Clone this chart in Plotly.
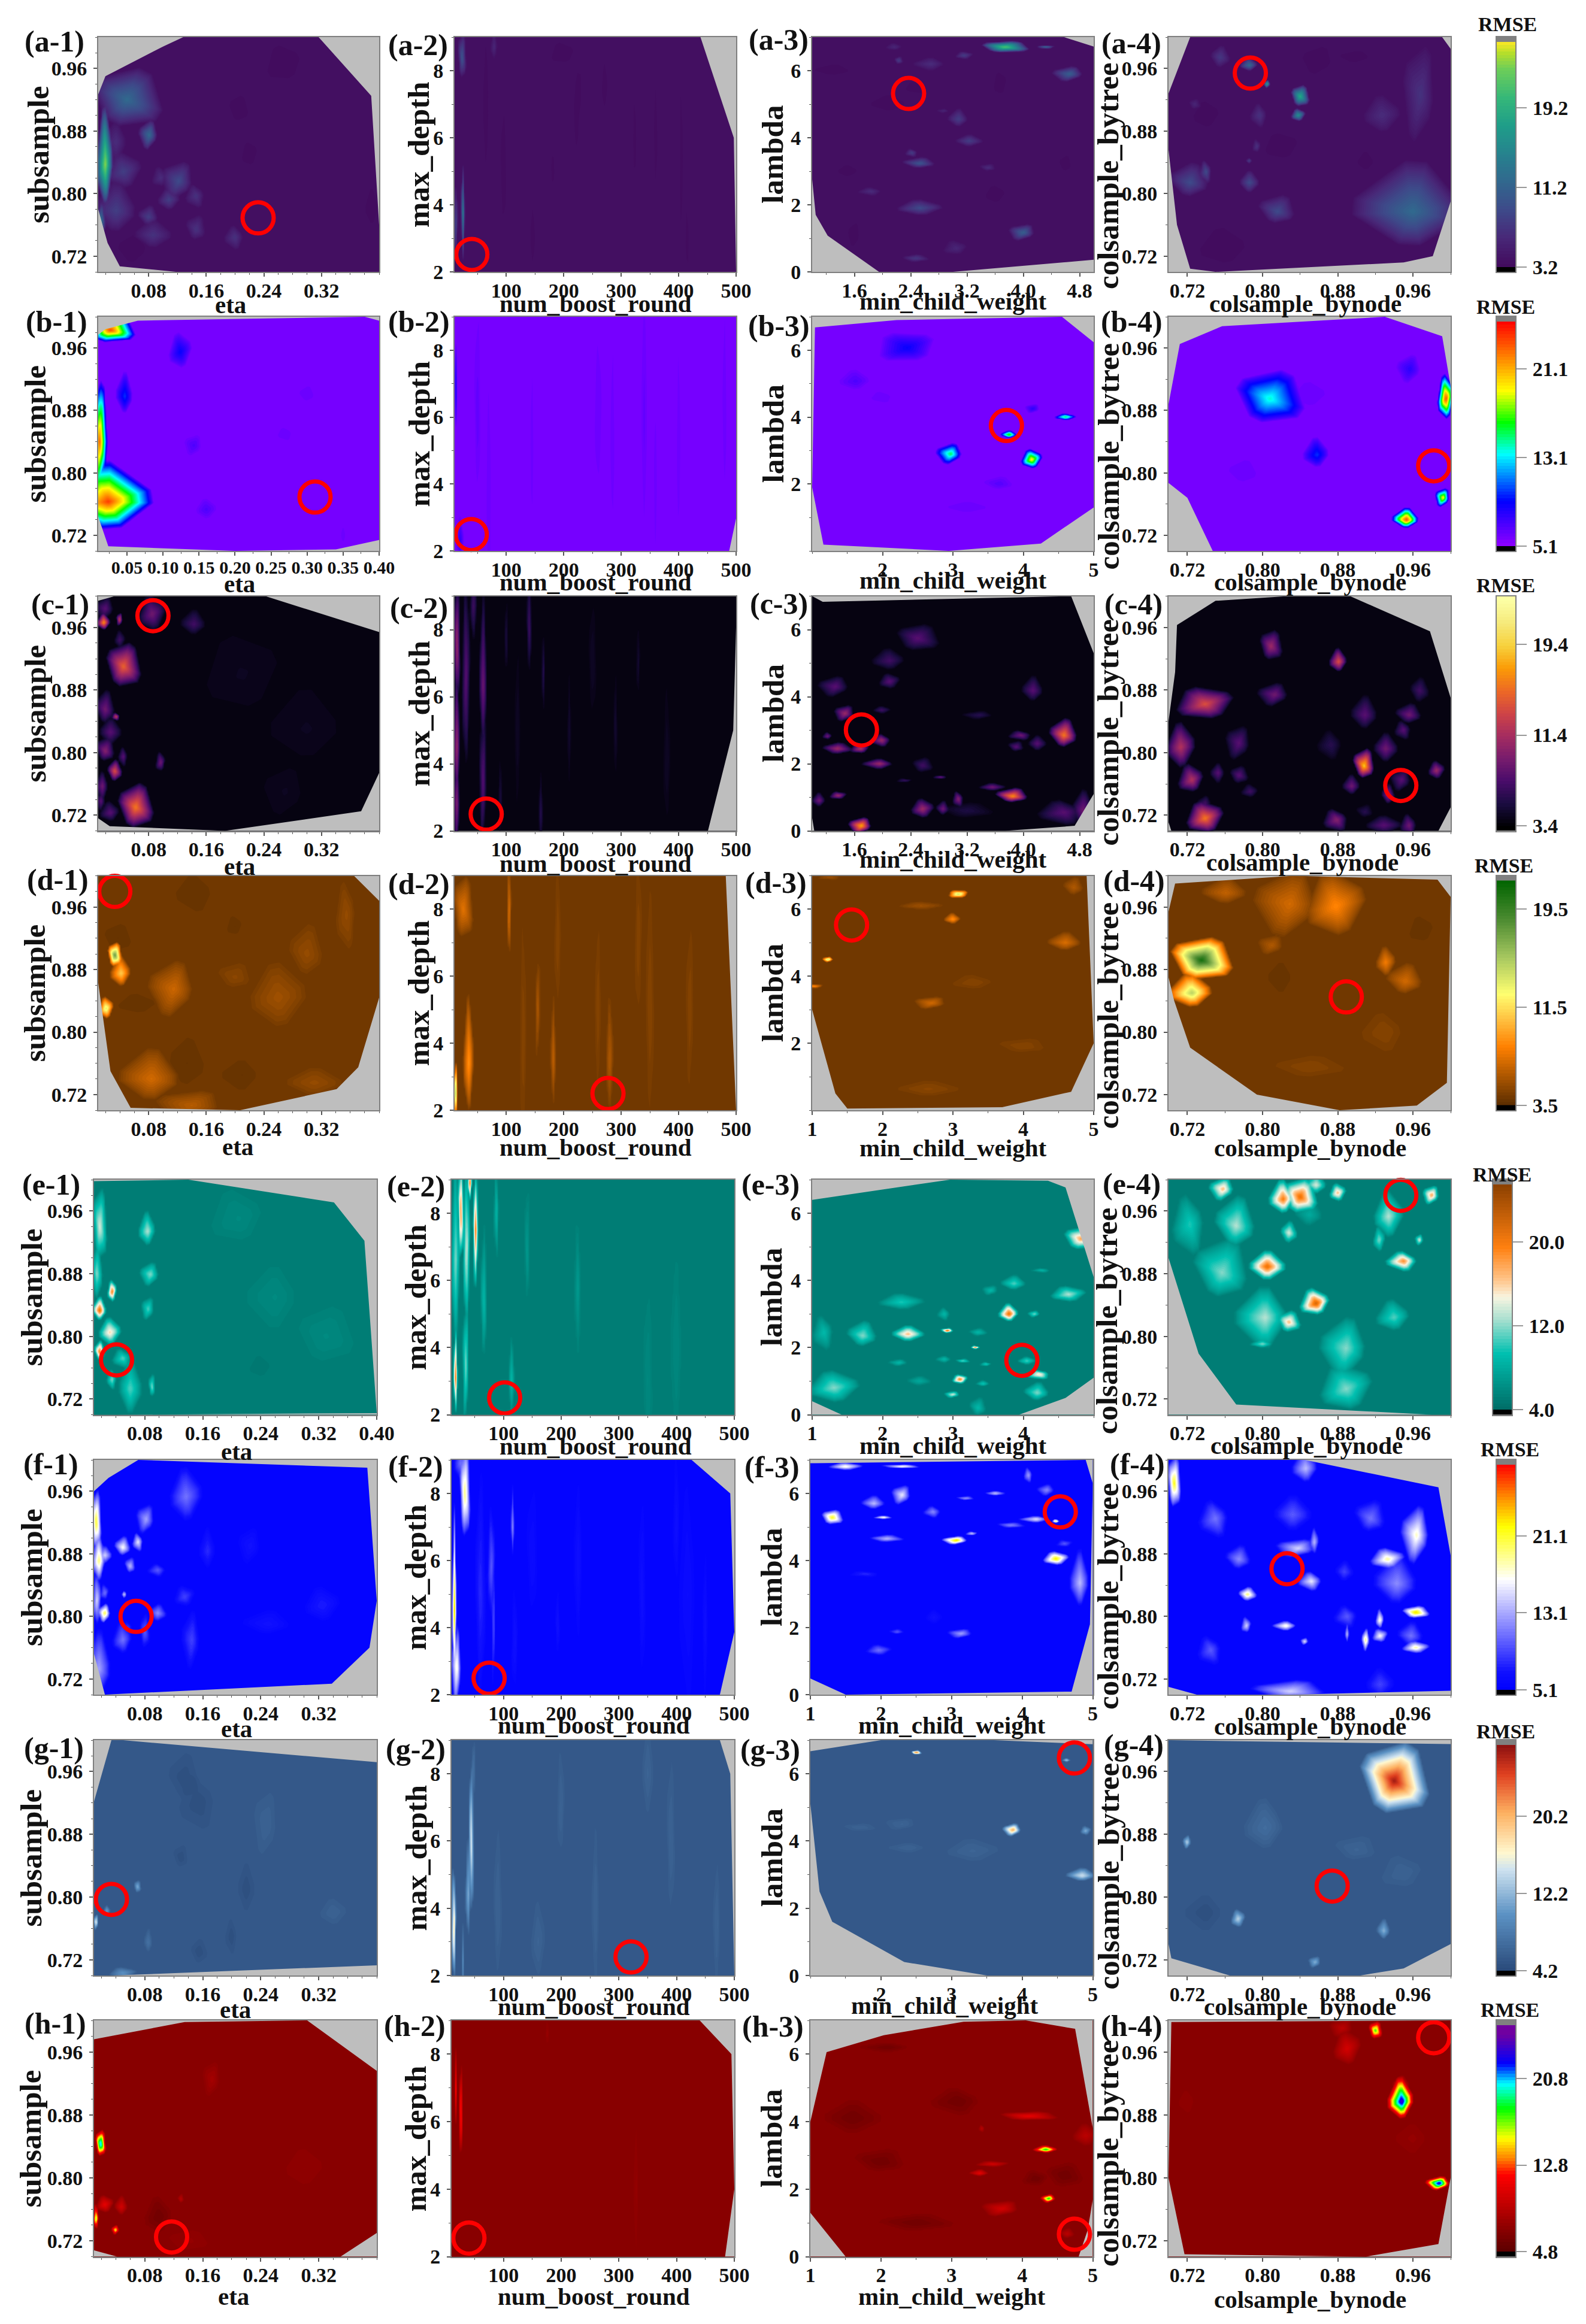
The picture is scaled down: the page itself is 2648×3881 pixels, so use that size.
import numpy as np
import plotly.graph_objects as go

W, H = 2648, 3881
FONT = "Liberation Serif"

ROWS = ["a", "b", "c", "d", "e", "f", "g", "h"]
X_TITLES = ["eta", "num_boost_round", "min_child_weight", "colsample_bynode"]
Y_TITLES = ["subsample", "max_depth", "lambda", "colsample_bytree"]

# colour-bar ranges and ticks per row (RMSE)
RMSE_MIN = [3.2, 5.1, 3.4, 3.5, 4.0, 5.1, 4.2, 4.8]
RMSE_MID = [11.2, 13.1, 11.4, 11.5, 12.0, 13.1, 12.2, 12.8]
RMSE_HIGH = [19.2, 21.1, 19.4, 19.5, 20.0, 21.1, 20.2, 20.8]
RMSE_MAX = [25.8, 25.4, 23.2, 21.8, 25.5, 28.5, 27.6, 25.7]
RMSE_BASE = [3.7, 5.7, 3.8, 4.2, 5.2, 5.5, 5.4, 6.6]

A_COLORS = [(0, "#420a5c"), (.13, "#482878"), (.25, "#3e4989"), (.38, "#31688e"), (.5, "#26828e"), (.63, "#1f9e89"), (.75, "#35b779"), (.88, "#6ece58"), (.95, "#b5de2b"), (1, "#fde725")]
B_COLORS = [(0, "#9000ff"), (.2, "#0000ff"), (.41, "#00ffff"), (.55, "#00ff00"), (.69, "#ffff00"), (1, "#ff0000")]
C_COLORS = [(0, "#000004"), (.1, "#1b0c41"), (.2, "#4a0c6b"), (.3, "#781c6d"), (.4, "#a52c60"), (.5, "#cf4446"), (.6, "#ed6925"), (.7, "#fb9b06"), (.8, "#f7d13d"), (.9, "#f6e97a"), (1, "#fcffa4")]
D_COLORS = [(0, "#5a2d00"), (.26, "#ff8000"), (.38, "#ffc040"), (.495, "#ffff70"), (.655, "#a8c860"), (.83, "#4a8a30"), (1, "#006400")]
E_COLORS = [(0, "#006c66"), (.25, "#00c0b0"), (.4, "#a8e0d0"), (.5, "#f8f4e0"), (.57, "#ffc890"), (.72, "#ff8010"), (1, "#8b4000")]
F_COLORS = [(0, "#0000ff"), (.08, "#1010ff"), (.3, "#9090ff"), (.49, "#ffffff"), (.725, "#ffff00"), (.85, "#ff9000"), (1, "#ff0000")]
G_COLORS = [(0, "#2a4a7a"), (.25, "#5c92c4"), (.45, "#cfe3f0"), (.52, "#fff8d0"), (.7, "#fdb060"), (.87, "#e04020"), (1, "#8b1010")]
H_COLORS = [(0, "#5a0000"), (.1, "#8b0000"), (.34, "#ff0000"), (.41, "#ff8000"), (.5, "#ffff00"), (.63, "#00ff00"), (.74, "#00ffff"), (.83, "#0000ff"), (.96, "#7000a0"), (1, "#7000a0")]
OVER_COLORS = ["#808080", "#808080", "#fcffa4", "#808080", "#808080", "#808080", "#808080", "#808080"]

# optimal point marked by the red circle in each panel
BEST_X = [[.232, 40, 2.37, .787], [.311, 39, 3.76, .982], [.086, 65, 1.7, .947], [.033, 277, 1.56, .889],
          [.041, 102, 3.98, .947], [.068, 75, 4.54, .826], [.034, 321, 4.74, .874], [.117, 40, 4.74, .982]]
BEST_Y = [[.769, 2.52, 5.32, .954], [.769, 2.49, 3.75, .809], [.975, 2.5, 3.01, .758], [.98, 2.5, 5.53, .845],
          [.77, 2.5, 1.62, .98], [.80, 2.49, 5.45, .861], [.797, 2.55, 6.47, .814], [.725, 2.55, .665, .978]]

ETA_TICKS = [.08, .16, .24, .32]
ETA_TICKS_B = [.05, .10, .15, .20, .25, .30, .35, .40]
ETA_TICKS_E = [.08, .16, .24, .32, .40]
ROUND_TICKS = [100, 200, 300, 400, 500]
DEPTH_TICKS = [2, 4, 6, 8]
MCW_TICKS_FINE = [1.6, 2.4, 3.2, 4.0, 4.8]
MCW_TICKS_15 = [1, 2, 3, 4, 5]
MCW_TICKS_25 = [2, 3, 4, 5]
MCW_TICKS_14 = [1, 2, 3, 4]
LAMBDA_TICKS = [0, 2, 4, 6]
LAMBDA_TICKS_26 = [2, 4, 6]
FRAC_TICKS = [.72, .80, .88, .96]

X_RANGES = [[.01, .40], [10, 500], [1, 5], [.70, 1.0]]
Y_RANGES = [[.70, 1.0], [2, 9], [0, 7], [.70, 1.0]]

# Hull of sampled region (x, y) and local features (x, y, rmse, half-width x, half-width y[, tilt])
A1_HULL = [(.01, .78), (.01, .927), (.02, .95), (.10, .988), (.128, 1), (.316, 1), (.389, .925), (.40, .76), (.40, .70), (.118, .70), (.04, .707), (.023, .737)]
A1_SPOTS = [(.05, .92, 12, .04, .033), (.02, .837, 24, .01, .06), (.081, .875, 12, .012, .015), (.045, .828, 8, .02, .02), (.035, .778, 8, .025, .03), (.122, .816, 9, .02, .02), (.108, .792, 8, .012, .012), (.08, .77, 8, .012, .012), (.146, .797, 7, .012, .012), (.086, .747, 7, .02, .015), (.146, .754, 7, .012, .015), (.20, .744, 7, .012, .012), (.014, .765, 13, .005, .02), (.097, .82, 6.5, .01, .012), (.035, .866, 6.5, .015, .02), (.205, .908, 3.3, .015, .02), (.27, .965, 3.3, .03, .03, 30), (.06, .73, 3.3, .025, .02), (.22, .85, 3.3, .012, .018), (.39, .78, 3.3, .01, .03)]
A2_HULL = [(10, 2), (10, 9), (438, 9), (496, 6), (500, 2)]
A2_SPOTS = [(23, 8.4, 10, 6, .6), (79, 8.7, 6, 5, .4), (25, 3.75, 14, 3, 1.2), (12, 3.4, 9, 3, 1), (200, 8.5, 3.3, 25, .4, 30), (227, 7.3, 3.3, 5, .8), (271, 7.5, 3.3, 5, .8), (181, 5, 3.3, 3, .7), (415, 3, 3.3, 3, 1), (146, 3, 3.3, 4, 1), (222, 6.5, 3.3, 5, 1.3), (324, 6, 3.3, 3, 1.5), (360, 6, 3.3, 3, 1.8), (405, 5, 3.3, 3, 2.8), (65, 7, 3.3, 6, 2), (95, 5, 3.3, 5, 2)]
A3_HULL = [(1.04, 7), (4.58, 7), (5, 6.72), (5, .36), (3, 0), (1.95, 0), (1.22, 1.08), (1.05, 1.7), (1, 2.76), (1, 7)]
A3_SPOTS = [(3.74, 6.7, 22, .28, .15), (4.33, 6.7, 15, .15, .03), (4.66, 5.9, 11, .2, .18), (3.16, 6.45, 8, .1, .1), (3.08, 4.55, 8, .12, .25), (4, 1.17, 11, .17, .2), (2.53, 1.9, 9, .25, .2), (2.53, 3.23, 10, .2, .15), (2.42, 3.55, 8, .08, .1), (3.23, 3.9, 8, .15, .15), (3.5, 3.1, 6.5, .1, .1), (1.84, 2.4, 6.5, .15, .1), (2.47, .4, 7.5, .15, .1), (3.05, .7, 6, .15, .2), (2.69, 6.2, 6.5, .2, .15), (2.23, 6.3, 8, .05, .1), (2.17, 6.7, 6, .1, .1), (2.87, 4.8, 6, .08, .05), (3.67, 5.6, 3.3, .1, .4), (2.1, 5.0, 3.3, .3, .3), (1.6, 1.1, 3.3, .1, .4), (3.6, 2.3, 3.3, .15, .3), (1.3, 6, 3.3, .3, .2), (2.5, 5.5, 3.3, .2, .2), (1.5, 3, 3.3, .15, .2), (4.6, 3.2, 3.3, .1, .3)]
A4_HULL = [(.723, 1), (.991, 1), (1, .985), (1, .79), (.981, .72), (.95, .712), (.75, .70), (.723, .704), (.709, .76), (.70, .856), (.70, .928)]
A4_SPOTS = [(.84, .924, 19, .008, .012), (.786, .964, 12, .008, .008), (.805, .94, 18, .003, .004), (.838, .90, 16, .006, .007), (.96, .777, 12, .05, .05), (.968, .926, 7, .015, .05), (.927, .90, 6.5, .015, .02), (.723, .814, 9, .018, .02), (.74, .828, 9, .006, .012), (.786, .814, 9, .008, .012), (.816, .777, 9, .017, .017), (.797, .90, 7, .008, .012), (.755, .974, 7.5, .008, .012), (.794, .86, 7, .004, .008), (.786, .842, 8, .003, .003), (.728, .914, 6, .005, .006), (.76, .73, 3.3, .03, .03), (.90, .975, 3.3, .02, .008), (.82, .86, 3.3, .02, .02), (.91, .84, 3.3, .01, .015), (.86, .97, 3.3, .02, .02), (.74, .90, 3.3, .015, .02)]

B1_HULL = [(.01, .744), (.01, .977), (.02, .984), (.065, .995), (.38, 1), (.40, .995), (.40, .714), (.34, .702), (.20, .70), (.024, .706)]
B1_SPOTS = [(.027, .983, 24, .028, .015), (.024, .763, 24, .06, .04), (.012, .84, 23, .012, .06), (.124, .955, 9, .013, .02), (.047, .898, 10, .01, .025), (.143, .835, 7, .012, .012), (.16, .753, 7, .012, .012), (.30, .90, 6.1, .02, .02), (.27, .85, 6.1, .02, .015), (.35, .72, 6.1, .005, .02)]
B2_HULL = [(10, 2), (10, 9), (500, 9), (500, 2.97), (488, 2)]
B2_SPOTS = [(12, 6.8, 9, 2, 1.2), (20, 2.3, 8, 6, .6), (145, 5, 6.2, 4, 3), (260, 6, 6.2, 8, 3), (285, 5, 6.2, 5, 4), (360, 4, 6.2, 4, 3), (400, 5, 6.2, 4, 4), (480, 6, 6.2, 5, 4), (70, 4, 6.2, 6, 4), (340, 6, 6.4, 5, 4), (50, 6, 6.5, 6, 3)]
B3_HULL = [(1, 1.9), (1.04, 6.68), (2.2, 6.9), (4.55, 7), (5, 6.24), (5, 1.3), (4.25, .22), (2.94, 0), (1.16, .19)]
B3_SPOTS = [(2.35, 6.07, 9, .35, .4, 40), (1.62, 5.07, 7, .2, .3), (2.97, 2.9, 15.5, .17, .25), (4.12, 2.73, 20, .12, .25), (3.8, 3.47, 18, .1, .1), (4.14, 4.25, 8, .1, .12), (4.6, 4.0, 16, .12, .08), (3.66, 2, 6.8, .2, .2), (2.0, 4.6, 6.1, .3, .3), (3.2, 1.3, 6.1, .5, .3)]
B4_HULL = [(.70, .888), (.712, .965), (.757, .988), (.93, 1), (.991, .975), (1, .911), (1, .70), (.747, .70), (.72, .768), (.70, .787)]
B4_SPOTS = [(.8077, .895, 14, .03, .03), (.858, .823, 10, .012, .018), (.957, .933, 8, .012, .015), (.995, .895, 24, .007, .025), (.953, .74, 24, .012, .012), (.992, .768, 20, .007, .01), (.85, .90, 6.1, .03, .03), (.78, .80, 6.1, .03, .03)]

C1_HULL = [(.01, .716), (.01, .994), (.033, 1), (.242, 1), (.40, .954), (.40, .774), (.375, .725), (.186, .70), (.026, .706)]
C1_SPOTS = [(.045, .91, 15, .02, .025), (.018, .966, 17, .008, .01), (.02, .984, 8, .012, .012), (.085, .977, 9, .015, .02), (.143, .964, 7, .015, .015), (.04, .97, 13, .004, .007), (.04, .944, 7, .006, .01), (.02, .855, 9, .012, .02), (.035, .846, 13, .005, .004), (.027, .826, 8, .012, .015), (.02, .802, 10, .012, .015), (.045, .795, 8, .006, .01), (.033, .776, 14, .008, .012), (.097, .787, 9, .006, .012), (.016, .757, 9, .008, .015), (.062, .73, 16, .02, .025), (.027, .723, 8, .012, .012), (.014, .738, 8, .006, .01), (.21, .90, 4.3, .05, .05), (.30, .83, 4.3, .05, .05), (.27, .75, 4.3, .03, .03)]
C2_HULL = [(10, 2), (10, 9), (500, 9), (500, 8.07), (495, 5), (451, 2)]
C2_SPOTS = [(14, 7.5, 11, 5, 1.6), (14, 4.5, 11, 5, 2), (14, 2.8, 10, 5, 1.2), (30, 6.5, 8, 6, 2.5), (60, 6.3, 9, 6, 2.2), (60, 3.5, 8, 6, 1.7), (43, 8.7, 7, 5, 1), (140, 8, 7, 4, 1.5), (165, 6.8, 6, 3, 1), (160, 2.5, 6, 3, 1), (100, 7.6, 5.5, 3, 1), (210, 5, 5, 3, 1.4), (290, 5, 5, 3, 1.4), (330, 7, 5, 3, 1), (90, 3, 5.5, 3, 1), (250, 7, 4.6, 6, 1.5), (380, 4, 4.6, 6, 2), (120, 5, 4.6, 5, 2)]
C3_HULL = [(1, .38), (1, 7), (1.15, 6.83), (4.68, 7), (5, 5.3), (5, 1.1), (4.73, .15), (3.74, 0), (1.03, 0)]
C3_SPOTS = [(2.5, 5.74, 8, .25, .35), (2.1, 5.07, 7, .2, .3), (1.33, 4.3, 8, .2, .25), (2.1, 4.45, 8, .12, .2), (4.14, 4.18, 8, .13, .35), (1.47, 3.5, 11, .13, .2), (1.99, 3.6, 7, .1, .1), (4.58, 2.85, 16, .17, .4), (3.97, 2.85, 9, .15, .12), (4.2, 2.6, 8, .1, .2), (3.9, 2.5, 8, .1, .15), (1.99, 2.7, 11, .13, .15), (1.36, 2.45, 11, .17, .15), (1.69, 2.45, 12, .12, .15), (1.96, 2, 11, .2, .12), (2.57, 1.95, 7, .12, .2), (1.22, 2.82, 9, .06, .1), (3.38, 3.45, 6, .2, .1), (1.37, 1.05, 11, .1, .1), (1.1, .9, 9, .08, .2), (1.7, .15, 18, .15, .2), (2.57, .65, 11, .13, .25), (2.86, .65, 9, .08, .2), (3.08, .95, 10, .07, .2), (3.56, 1.3, 9, .15, .1), (3.85, 1.03, 17, .2, .2), (4.58, .55, 8, .3, .3), (4.85, .6, 9, .12, .5), (2.32, 1.5, 7, .1, .05), (2.83, 1.6, 9, .1, .04), (3.2, .6, 5.5, .3, .2)]
C4_HULL = [(.70, .711), (.703, .70), (.987, .70), (1, .73), (1, .87), (.978, .955), (.893, 1), (.827, 1), (.75, .994), (.709, .963), (.707, .903), (.70, .84)]
C4_SPOTS = [(.809, .936, 11, .01, .017), (.881, .916, 14, .008, .014), (.813, .874, 9, .015, .012), (.739, .862, 14, .025, .018, 30), (.909, .848, 8, .012, .02), (.775, .812, 8, .012, .018), (.713, .807, 12, .012, .025), (.956, .848, 9, .012, .012), (.95, .829, 8, .008, .01), (.931, .805, 9, .01, .016), (.908, .783, 19, .01, .018), (.873, .81, 6, .012, .015), (.967, .879, 7, .008, .014), (.725, .765, 12, .012, .017), (.753, .774, 8, .007, .01), (.775, .771, 8, .008, .01), (.787, .75, 7, .008, .008), (.739, .735, 7, .007, .008), (.739, .716, 16, .016, .018), (.895, .757, 9, .008, .012), (.948, .765, 8, .01, .012), (.985, .777, 11, .007, .01), (.934, .745, 10, .006, .012), (.879, .714, 10, .012, .012), (.929, .707, 8, .015, .01), (.909, .724, 6, .008, .008), (.956, .707, 9, .008, .012)]

D1_HULL = [(.01, .863), (.01, 1), (.365, 1), (.40, .968), (.40, .844), (.371, .755), (.341, .727), (.207, .70), (.055, .703), (.027, .75)]
D1_SPOTS = [(.033, .898, 18, .008, .014), (.042, .875, 11, .012, .018), (.115, .855, 6.8, .028, .028), (.021, .83, 14, .008, .012), (.084, .74, 7, .035, .03), (.14, .706, 6.2, .04, .015), (.26, .844, 5.5, .03, .035), (.30, .90, 5.2, .02, .03), (.355, .95, 5.2, .012, .035), (.31, .735, 5.2, .03, .015), (.20, .87, 4.9, .02, .015), (.146, .978, 3.75, .03, .025), (.133, .76, 3.75, .025, .035), (.20, .935, 3.75, .012, .015), (.21, .745, 3.75, .03, .02), (.037, .92, 3.75, .02, .02), (.066, .835, 3.75, .03, .015)]
D2_HULL = [(10, 2), (10, 9), (482, 9), (500, 2)]
D2_SPOTS = [(25, 8, 7.5, 14, .8), (35, 3.4, 9, 8, 1.6), (12, 2.5, 17, 3, .7), (105, 7.9, 7.5, 3, 1.2), (182, 3.5, 6.5, 4, 1.5), (155, 5, 6, 4, 1.2), (280, 3.5, 6, 5, 1.5), (75, 7.3, 3.75, 8, 1.8), (150, 6, 3.75, 4, 1), (310, 7, 3.75, 6, 2), (405, 8.5, 3.75, 15, .6), (217, 5.7, 3.75, 5, 2), (350, 5, 4.8, 6, 3), (130, 4, 4.8, 5, 3), (450, 6, 3.75, 5, 2), (240, 3, 3.75, 5, 1.5), (190, 7, 4.8, 5, 2), (260, 5, 4.8, 5, 2), (330, 7, 4.8, 5, 2), (370, 4, 3.75, 6, 1.5), (420, 5, 4.8, 6, 2)]
D3_HULL = [(1, 3), (1, 7), (4.9, 7), (5, 2), (4.68, .55), (3.7, .09), (1.5, .05), (1.33, .5)]
D3_SPOTS = [(3.08, 6.45, 15, .12, .1, 40), (3, 5.7, 9, .1, .15), (1.23, 4.5, 15, .07, .06), (1.03, 3.7, 9, .1, .05), (4.6, 5, 7.2, .2, .25), (2.7, 3.2, 7, .2, .15), (2.55, 6.1, 5.5, .25, .1), (4.72, 6.65, 6, .12, .25), (1.26, 6.95, 5.5, .15, .05), (2.65, .63, 4.9, .35, .2), (4, 1.9, 4.8, .3, .2), (2.3, 1.3, 3.75, .35, .15), (3.67, .45, 3.75, .1, .25), (2.94, 5.2, 3.75, .15, .3), (3.67, 5.5, 3.75, .2, .2), (1.47, 2.5, 3.75, .3, .4), (3.3, 3.8, 4.8, .25, .2)]
D4_HULL = [(.70, .87), (.70, .954), (.707, .99), (.833, 1), (.986, .995), (1, .973), (.996, .735), (.964, .706), (.882, .70), (.794, .72), (.723, .78), (.706, .84)]
D4_SPOTS = [(.735, .892, 21, .027, .024), (.725, .85, 15, .02, .02), (.829, .964, 7, .03, .033), (.878, .961, 8.5, .025, .035), (.761, .978, 6.5, .02, .015), (.81, .911, 6, .012, .01), (.931, .889, 8, .008, .016), (.952, .865, 7, .016, .018), (.75, .925, 3.75, .012, .02), (.89, .83, 3.75, .03, .03), (.86, .80, 3.75, .02, .02), (.93, .80, 4.8, .02, .02), (.85, .755, 4.8, .03, .012), (.97, .93, 3.75, .015, .02), (.82, .87, 3.75, .015, .02)]

E1_HULL = [(.01, .70), (.01, .998), (.14, 1), (.341, .971), (.383, .922), (.40, .702), (.04, .70)]
E1_SPOTS = [(.018, .94, 14, .008, .04), (.084, .934, 13, .01, .02), (.088, .879, 12, .012, .012), (.035, .857, 20, .005, .012), (.018, .833, 21, .008, .014), (.085, .835, 11, .008, .012), (.032, .805, 16, .012, .015), (.018, .78, 20, .006, .012), (.05, .772, 11, .012, .01), (.06, .733, 11, .012, .03), (.09, .735, 12, .004, .014), (.035, .745, 12, .006, .01), (.014, .88, 12, .006, .03), (.21, .95, 5.9, .03, .03), (.26, .85, 5.9, .03, .03), (.33, .80, 5.9, .03, .03), (.24, .76, 4.8, .03, .03)]
E2_HULL = [(10, 2), (10, 9), (500, 9), (500, 2)]
E2_SPOTS = [(26, 8, 20, 4, 1.3), (42, 8.9, 20, 3, .6), (52, 7.5, 20, 4, 1.5), (36, 6.9, 14, 5, 2.2), (17, 3.1, 21, 3, 1.2), (35, 3.5, 12, 5, 1.5), (17, 6.6, 12, 6, 2.5), (66, 5.3, 9, 5, 1.8), (88, 8.1, 9, 4, 1.1), (114, 3, 9, 4, 1), (141, 6.8, 7, 4, 1.5), (229, 5.8, 7, 5, 1.5), (200, 8, 4.8, 20, 1), (300, 7, 4.8, 25, 2), (400, 4, 5.9, 8, 2), (350, 3, 5.9, 6, 2)]
E3_HULL = [(1, 6.4), (2.96, 7), (4.35, 6.97), (4.6, 6.77), (5, 4.1), (5, 1.1), (4.6, .5), (3.94, 0), (1.42, 0), (1, .4)]
E3_SPOTS = [(4.82, 5.24, 18, .2, .3), (3.8, 3, 21, .12, .25), (4.16, 3, 12, .08, .08), (4.64, 3.58, 13, .2, .2), (3.87, 3.9, 11, .15, .2), (3.54, 3.7, 9, .1, .12), (2.27, 3.35, 10, .25, .2), (1.72, 2.35, 12, .18, .35), (1.17, 2.45, 9, .13, .4), (2.36, 2.4, 17, .18, .2), (2.92, 2.5, 22, .08, .06), (2.88, 3, 9, .08, .15), (3.36, 2.45, 9, .1, .1), (3.32, 2, 21, .06, .04), (2.88, 1.65, 9, .1, .08), (3.14, 1.6, 12, .08, .05), (3.47, 1.5, 11, .07, .05), (2.24, 1.55, 9, .12, .08), (3.1, 1.05, 20, .09, .12), (3.43, .92, 10, .08, .08), (3.0, .6, 14, .1, .08), (1.31, .8, 12, .28, .4), (4.2, .65, 12, .15, .25), (4.23, 1.2, 16, .15, .12), (4.05, 1.6, 11, .1, .1), (3.36, .2, 9, .1, .25), (4.27, 4.3, 9, .12, .05), (2.52, 1, 8, .13, .12)]
E4_HULL = [(.70, .90), (.70, 1), (1, 1), (1, .70), (.98, .70), (.772, .713), (.732, .778)]
E4_SPOTS = [(.84, .978, 21, .015, .02), (.822, .975, 20, .012, .02), (.758, .988, 17, .012, .012), (.88, .983, 17, .007, .01), (.857, .993, 14, .01, .012), (.98, .98, 18, .008, .01), (.934, .953, 13, .012, .025), (.772, .941, 13, .018, .03), (.723, .943, 10, .015, .03), (.805, .889, 21, .015, .016), (.757, .881, 12, .025, .035), (.95, .896, 19, .015, .01), (.828, .932, 14, .007, .012), (.857, .842, 22, .014, .016), (.803, .824, 13, .025, .03), (.828, .818, 17, .01, .012), (.94, .824, 11, .015, .018), (.889, .785, 12, .022, .03), (.889, .733, 12, .022, .025), (.80, .79, 12, .01, .005), (.967, .923, 14, .004, .006), (.924, .923, 12, .005, .014), (.85, .955, 8, .012, .015)]

F1_HULL = [(.01, .752), (.01, .96), (.03, .977), (.071, 1), (.387, .99), (.40, .82), (.39, .76), (.338, .714), (.025, .70)]
F1_SPOTS = [(.013, .92, 22, .006, .035), (.017, .871, 20, .008, .03), (.025, .804, 21, .008, .01), (.014, .82, 15, .005, .03), (.017, .733, 13, .015, .04), (.082, .924, 13, .012, .016), (.137, .953, 11, .018, .03), (.05, .888, 17, .01, .012), (.071, .895, 16, .007, .01), (.025, .878, 15, .008, .01), (.06, .864, 14, .007, .01), (.098, .859, 10, .012, .007), (.098, .804, 12, .01, .01), (.025, .83, 11, .006, .01), (.052, .828, 16, .003, .004), (.08, .78, 10, .006, .02), (.05, .77, 11, .012, .02), (.145, .77, 9, .012, .03), (.135, .825, 9, .012, .012), (.167, .883, 8, .01, .025), (.226, .89, 7, .015, .02), (.325, .814, 7.5, .02, .02), (.25, .79, 7, .03, .015), (.057, .785, 9, .006, .008)]
F2_HULL = [(10, 2), (10, 9), (426, 9), (493, 8), (500, 3.87), (475, 2)]
F2_SPOTS = [(33, 8, 20, 8, 1.3), (15, 4.5, 24, 3, 2.5), (19, 2.8, 18, 8, 1), (79, 5.8, 10, 6, 1.5), (116, 7, 12, 3, 1), (83, 4, 10, 3, 1.5), (26, 8.9, 11, 10, .5), (194, 4, 7, 4, 1), (292, 5.3, 2, 11, 3.5), (300, 2.8, 3.5, 5, 1.6), (150, 6, 6.5, 10, 2), (420, 5, 6.5, 15, 3), (60, 5, 8, 8, 3), (120, 3.5, 7, 6, 1.5), (230, 6, 6.8, 8, 2), (340, 5, 6.8, 6, 2.5), (400, 7, 6.8, 6, 2), (450, 4, 6.8, 5, 2)]
F3_HULL = [(1, .48), (1, 6.9), (1.06, 6.9), (4.9, 7), (5, 6.3), (4.96, 2.1), (4.7, .09), (1.5, 0)]
F3_SPOTS = [(1.31, 5.28, 22, .13, .2), (2.04, 5.28, 18, .12, .05), (3.07, 4.6, 24, .17, .1), (4.48, 4.05, 23, .15, .18), (1.9, 5.7, 14, .15, .2), (2.3, 5.95, 16, .13, .25), (1.5, 6.8, 18, .2, .1), (2.3, 6.8, 19, .25, .05), (4.09, 6.55, 13, .06, .2), (3.62, 6, 15, .12, .06), (3.2, 5.85, 13, .12, .06), (2.74, 5.45, 12, .12, .15), (2.08, 4.65, 14, .2, .1), (4.48, 5.17, 22, .05, .05), (4.2, 5.23, 16, .2, .08), (3.84, 5.05, 12, .17, .08), (3.29, 4.8, 16, .08, .05), (4.35, 6.1, 12, .12, .15), (4.6, 4.5, 10, .1, .1), (4.82, 3.33, 14, .12, .8), (3.14, 1.82, 13, .17, .12), (1.97, 1.32, 11, .15, .15), (2.23, 1.87, 10, .1, .08), (1.79, 3.6, 8, .2, .08), (2.75, 2.3, 7, .1, .2)]
F4_HULL = [(.70, .71), (.70, 1), (.845, 1), (.987, .965), (1, .878), (1, .705), (.833, .70), (.73, .70)]
F4_SPOTS = [(.706, .97, 22, .006, .03), (.846, .989, 14, .012, .02), (.964, .904, 18, .014, .03), (.933, .873, 19, .015, .012), (.943, .842, 12, .02, .03), (.838, .887, 15, .02, .01), (.855, .895, 14, .004, .015), (.775, .873, 12, .012, .015), (.75, .925, 11, .015, .02), (.832, .93, 10, .016, .02), (.915, .925, 11, .015, .02), (.852, .845, 16, .012, .01), (.784, .828, 20, .008, .008), (.783, .788, 15, .005, .01), (.825, .788, 18, .012, .005), (.963, .805, 24, .012, .007), (.925, .795, 18, .004, .012), (.91, .77, 20, .004, .012), (.925, .775, 17, .007, .008), (.89, .777, 14, .002, .012), (.845, .768, 16, .004, .004), (.963, .76, 19, .012, .007), (.958, .775, 11, .012, .015), (.745, .757, 10, .012, .016), (.925, .713, 9, .012, .017), (.83, .704, 15, .035, .012), (.89, .80, 10, .012, .012), (.887, .857, 9, .008, .012)]

G1_HULL = [(.01, .70), (.01, .922), (.034, 1), (.05, 1), (.40, .972), (.40, .713), (.036, .70)]
G1_SPOTS = [(.07, .813, 12, .004, .007), (.028, .782, 11, .004, .006), (.013, .768, 17, .003, .008), (.05, .703, 10, .015, .006), (.085, .742, 7.5, .005, .014), (.248, .893, 6.2, .015, .035), (.34, .78, 6.2, .015, .015), (.135, .95, 4.6, .02, .03), (.155, .92, 4.6, .025, .03), (.22, .81, 4.6, .01, .03), (.13, .85, 4.6, .01, .015), (.2, .75, 4.6, .008, .02), (.155, .73, 4.6, .01, .015)]
G2_HULL = [(10, 2), (10, 9), (475, 9), (493, 8), (500, 2)]
G2_SPOTS = [(44, 5.9, 16, 3.5, 2), (39, 4.4, 12, 4, 1.4), (30, 2.4, 10, 2, 1), (14, 3.4, 20, 3, 1.5), (172, 5.5, 2.5, 4, 2.1), (48, 8, 8, 3, .8), (160, 3, 6.3, 10, 1), (230, 7, 4.6, 8, 2), (300, 6, 4.6, 6, 3), (350, 8, 6.3, 8, 1.2), (420, 4, 4.6, 8, 2), (120, 6, 4.6, 8, 2), (90, 4, 6.3, 6, 2), (200, 7, 6.3, 6, 1.5), (260, 4, 6.3, 6, 2), (390, 6, 6.3, 6, 2), (450, 7, 4.6, 6, 1.5), (470, 3.5, 6.3, 6, 1.5)]
G3_HULL = [(1, 5.1), (1, 6.67), (2, 7), (3.6, 7), (5, 6.88), (5, 0), (3.5, 0), (2.33, .4), (1.31, 1.6), (1.13, 2.5)]
G3_SPOTS = [(2.5, 6.63, 26, .06, .05), (4.63, 6.4, 14, .05, .05), (3.87, 4.33, 21, .12, .15), (4.9, 4.3, 12, .06, .12), (4.85, 2.97, 15, .18, .18), (2.3, 4.5, 6.3, .2, .15), (3.3, 3.7, 6.3, .3, .3), (3, 1.5, 4.6, .3, .3), (2, 5.5, 4.6, .5, .2), (4.2, 5.5, 4.6, .3, .3), (1.7, 5.8, 4.6, .5, .3), (3, 5.1, 4.6, .3, .2), (4.4, 3.3, 4.6, .25, .3), (3.3, 2.2, 4.6, .3, .3), (2.4, 3.8, 6.2, .25, .12), (1.7, 4.4, 6.2, .2, .1)]
G4_HULL = [(.70, .74), (.70, 1), (1, .995), (1, .74), (.95, .709), (.904, .70), (.765, .70), (.703, .722)]
G4_SPOTS = [(.94, .948, 27, .03, .04), (.803, .888, 7, .018, .03), (.72, .87, 14, .004, .007), (.774, .772, 14, .006, .01), (.929, .757, 12, .006, .012), (.856, .717, 12, .006, .006), (.80, .965, 4.6, .012, .015), (.88, .80, 4.6, .03, .03), (.80, .745, 4.6, .03, .02), (.84, .90, 4.6, .02, .02), (.90, .86, 6.3, .02, .015), (.76, .95, 4.6, .02, .03), (.87, .76, 4.6, .02, .015), (.95, .83, 6.2, .02, .02), (.74, .78, 4.6, .02, .02)]

H1_HULL = [(.01, .708), (.01, .976), (.135, .998), (.304, 1), (.40, .936), (.40, .73), (.35, .70), (.042, .70)]
H1_SPOTS = [(.019, .843, 22, .006, .015), (.013, .748, 18, .003, .015), (.04, .734, 16, .005, .005), (.025, .766, 11, .01, .01), (.048, .763, 10, .008, .012), (.173, .925, 8, .012, .02), (.30, .812, 7.2, .03, .03), (.13, .773, 9, .004, .006), (.265, .888, 5.7, .02, .03), (.29, .975, 5.7, .03, .015), (.055, .922, 5.7, .025, .03), (.165, .843, 5.7, .015, .01), (.39, .833, 5.7, .01, .03), (.12, .94, 5.7, .02, .012), (.07, .735, 5.7, .025, .015), (.14, .72, 7.3, .03, .015), (.10, .75, 5.7, .015, .02)]
H2_HULL = [(10, 2), (10, 9), (440, 9), (495, 8), (500, 4), (484, 2)]
H2_SPOTS = [(26, 6.2, 13, 3, 1.2), (17, 6.9, 13, 1.5, 1.2), (88, 7.8, 5.7, 12, 1.2), (229, 6.6, 5.7, 5, 1.5), (269, 7.8, 5.7, 4, 1.2), (400, 5.5, 5.7, 6, 2.5), (176, 8.6, 7.5, 3, .4), (310, 4, 5.7, 4, 1.8), (60, 4, 5.7, 10, 2), (450, 3.5, 5.7, 5, 1.5), (130, 6, 5.7, 8, 2.5), (200, 3.5, 5.7, 4, 1.5), (350, 7, 5.7, 6, 1.5), (430, 6, 5.7, 5, 2), (330, 4, 7.3, 5, 2)]
H3_HULL = [(1, 1.3), (1, 4), (1.23, 6.06), (2.04, 6.56), (3.17, 6.96), (4.05, 7), (4.75, 6.75), (5, 3.8), (5, 1.7), (4.93, .8), (4.8, 0), (1.5, 0)]
H3_SPOTS = [(4.09, 4.16, 11, .35, .12), (4.34, 3.17, 19, .15, .1), (4.38, 1.72, 19, .1, .1), (3.58, 2.74, 10, .2, .08), (3.4, 2.47, 11, .12, .1), (3.72, 1.42, 10, .25, .2), (4.9, 3.58, 9, .15, .3), (4.64, .67, 9, .1, .15), (3.43, 3.8, 9, .04, .1), (1.6, 4.1, 5.7, .3, .4), (2, 2.8, 5.7, .3, .3), (3.1, 4.6, 5.7, .3, .3), (2.5, 1, 5.7, .4, .2), (4.2, 2.3, 5.7, .15, .2), (2.1, 6.2, 5.7, .3, .1), (4.6, 2.4, 5.7, .2, .3)]
H4_HULL = [(.70, .80), (.703, .998), (1, 1), (1, .80), (.987, .716), (.91, .70), (.717, .703)]
H4_SPOTS = [(.92, .987, 18, .006, .01), (.948, .897, 24, .012, .025), (.988, .793, 24, .012, .007), (.89, .964, 10, .012, .02), (.948, .918, 10, .008, .01), (.885, .99, 9, .012, .01), (.89, .758, 2.5, .006, .015), (.905, .786, 3, .004, .003), (.76, .977, 5.7, .03, .02), (.72, .82, 5.7, .015, .03), (.83, .72, 5.7, .03, .02), (.72, .897, 7, .02, .03), (.80, .88, 5.7, .015, .02), (.86, .80, 5.7, .015, .03), (.96, .85, 7.3, .02, .02)]

N_BANDS = 70
GRID_N = 200

PLOT_TOP = [62, 529, 995.5, 1462.5, 1970, 2438, 2906, 3374]
PLOT_BOTTOM = [454, 920, 1387.5, 1854, 2362.5, 2830, 3299, 3768.5]
COL_LEFT = [[164, 759, 1356, 1951]] * 4 + [[157, 754, 1356, 1951]] + [[157, 754, 1353, 1951]] * 3
COL_RIGHT = [[633, 1229, 1826, 2422]] * 4 + [[629, 1226, 1826, 2422]] + [[629, 1226, 1824.5, 2422]] * 3
CBAR_LEFT = [2499, 2499, 2499, 2499, 2493, 2499, 2499, 2499]
CBAR_WIDTH = 31
LABEL_X = [[91, 698, 1300, 1889], [94, 699, 1300, 1889], [100, 699, 1300, 1892], [96, 699, 1295, 1893],
           [85, 694, 1286, 1889], [85, 694, 1289, 1899], [90, 694, 1286, 1893], [92, 692, 1290, 1889]]
LABEL_Y = [[69, 75, 66, 72], [537, 537, 544, 537], [1009, 1015, 1008, 1009], [1469, 1476, 1474, 1471],
           [1978, 1981, 1978, 1977], [2445, 2449, 2450, 2445], [2919, 2921, 2922, 2914], [3379, 3383, 3384, 3383]]
XTITLE_X = [[385, 994, 1591, 2179], [400, 994, 1591, 2187], [400, 994, 1591, 2174], [397, 994, 1591, 2187],
            [395, 994, 1591, 2181], [395, 991, 1589, 2187], [393, 991, 1577, 2170], [390, 991, 1589, 2187]]
XTITLE_Y = [[509, 507, 503, 507], [975, 972, 969, 972], [1447, 1442, 1435, 1440], [1915, 1916, 1917, 1917],
            [2424, 2415, 2414, 2414], [2887, 2881, 2881, 2883], [3356, 3351, 3349, 3351], [3835, 3835, 3835, 3840]]
YTITLE_X = [[64, 699, 1290, 1850], [58, 699, 1290, 1850], [58, 699, 1290, 1850], [58, 699, 1290, 1850],
            [53, 694, 1288, 1848], [53, 694, 1288, 1850], [51, 694, 1288, 1850], [51, 694, 1288, 1850]]
YTITLE_SHIFT = [36, 38, 32, 38, 40, 32, 31, 25]
RMSE_X = [2517, 2514, 2514, 2511, 2508, 2521, 2514, 2521]
RMSE_Y = [41, 512, 977, 1446, 1961, 2420, 2891, 3356]


def colorscale(stops, over, vmin, vmax):
    """Stepped scale: black under vmin, `over` above vmax."""
    cs = (vmax - vmin) / N_BANDS
    zlo, zhi = vmin - 1.5 * cs, vmax + 1.5 * cs
    s = lambda z: (z - zlo) / (zhi - zlo)
    s0, s1 = s(vmin), s(vmax)
    out = [[0, "#000000"], [s0, "#000000"]]
    for p, c in stops:
        out.append([s0 + p * (s1 - s0), c])
    out += [[s1, over], [1, over]]
    return out, vmin - cs, vmax + cs + cs / 1000, cs, zlo, zhi


def surface(xr, yr, base, spots):
    xs = np.linspace(xr[0], xr[1], GRID_N)
    ys = np.linspace(yr[0], yr[1], GRID_N)
    X, Y = np.meshgrid(xs, ys)
    Z = np.full(X.shape, float(base))
    for i, sp in enumerate(spots):
        cx, cy, val, rx, ry = sp[:5]
        # facets of the triangulated surface are angular and uneven: vary each patch's orientation and skew
        angle = sp[5] if len(sp) > 5 else (i * 37) % 61 - 30
        tilt = np.radians(angle)
        u0, v0 = (X - cx) / (rx * 1.3), (Y - cy) / (ry * 1.3)
        u = u0 * np.cos(tilt) + v0 * np.sin(tilt)
        v = -u0 * np.sin(tilt) + v0 * np.cos(tilt)
        u = np.where(u > 0, u * (1.0 + .25 * (i % 3)), u)
        v = np.where(v < 0, v * (1.0 + .25 * ((i + 1) % 3)), v)
        d = np.maximum(np.maximum(np.abs(u), np.abs(v)), (np.abs(u) + np.abs(v)) / 1.2)
        fall = (1 - np.clip(d, 0, 1)) ** .75
        if val >= base:
            Z = np.maximum(Z, base + (val - base) * fall)
        else:
            Z = Z + (val - base) * fall
    return xs, ys, np.round(Z, 3).astype("float32")


def mask_path(xr, yr, hull):
    pts = list(hull)
    area = sum(pts[i][0] * pts[(i + 1) % len(pts)][1] - pts[(i + 1) % len(pts)][0] * pts[i][1] for i in range(len(pts)))
    if area < 0:
        pts = pts[::-1]
    # outer box clockwise, hull counter-clockwise: leaves a hole for the surface
    px = [xr[0], xr[0], xr[1], xr[1], xr[0]] + [p[0] for p in pts] + [pts[0][0], xr[0]]
    py = [yr[0], yr[1], yr[1], yr[0], yr[0]] + [p[1] for p in pts] + [pts[0][1], yr[0]]
    return px, py


def ticks_for(r, c):
    if c == 0:
        vals = ETA_TICKS_B if r == 1 else ETA_TICKS_E if r == 4 else ETA_TICKS
        return vals, [f"{v:.2f}" for v in vals], .02 if r != 1 else .025, FRAC_TICKS, [f"{v:.2f}" for v in FRAC_TICKS], .02
    if c == 1:
        return ROUND_TICKS, [str(v) for v in ROUND_TICKS], 50, DEPTH_TICKS, [str(v) for v in DEPTH_TICKS], 1
    if c == 2:
        xs = {0: MCW_TICKS_FINE, 2: MCW_TICKS_FINE, 1: MCW_TICKS_25, 6: MCW_TICKS_25, 4: MCW_TICKS_14}.get(r, MCW_TICKS_15)
        lab = [f"{v:.1f}" if r in (0, 2) else str(v) for v in xs]
        ys = LAMBDA_TICKS_26 if r in (1, 3) else LAMBDA_TICKS
        return xs, lab, .4 if r in (0, 2) else .5, ys, [str(v) for v in ys], 1
    return FRAC_TICKS, [f"{v:.2f}" for v in FRAC_TICKS], .04, FRAC_TICKS, [f"{v:.2f}" for v in FRAC_TICKS], .04


fig = go.Figure()
layout = dict(width=W, height=H, margin=dict(l=0, r=0, t=0, b=0, pad=0, autoexpand=False), paper_bgcolor="white",
              plot_bgcolor="#bebebe", showlegend=False, font=dict(family=FONT, size=34, color="#111111", weight=700))
notes = []


def note(text, x, y, size, angle=0):
    notes.append(dict(text=text, x=x / W, y=1 - y / H, xref="paper", yref="paper", xanchor="center", yanchor="middle",
                      showarrow=False, textangle=angle, font=dict(family=FONT, size=size, color="#111111", weight=700)))


COLOR_TABLE = [A_COLORS, B_COLORS, C_COLORS, D_COLORS, E_COLORS, F_COLORS, G_COLORS, H_COLORS]
tick_font = dict(family=FONT, size=34, color="#111111", weight=700)
tick_font_dense = dict(family=FONT, size=30, color="#111111", weight=700)
n = 0
for r, row in enumerate(ROWS):
    cscale, cstart, cend, csize, zlo, zhi = colorscale(COLOR_TABLE[r], OVER_COLORS[r], RMSE_MIN[r], RMSE_MAX[r])
    top, bottom = PLOT_TOP[r], PLOT_BOTTOM[r]
    for c in range(4):
        n += 1
        suffix = "" if n == 1 else str(n)
        hull = globals()[f"{row.upper()}{c + 1}_HULL"]
        spots = globals()[f"{row.upper()}{c + 1}_SPOTS"]
        xr, yr = X_RANGES[c], Y_RANGES[c]
        xs, ys, zz = surface(xr, yr, RMSE_BASE[r], spots)
        fig.add_trace(go.Contour(x=xs, y=ys, z=zz, xaxis="x" + suffix, yaxis="y" + suffix, colorscale=cscale,
                                 autocontour=False, showscale=False,
                                 contours=dict(start=cstart, end=cend, size=csize, coloring="fill", showlines=False),
                                 line=dict(width=0, smoothing=0), hoverinfo="skip", name=f"({row}-{c + 1})"))
        px, py = mask_path(xr, yr, hull)
        fig.add_trace(go.Scatter(x=px, y=py, xaxis="x" + suffix, yaxis="y" + suffix, mode="lines", fill="toself",
                                 fillcolor="#bebebe", line=dict(width=0, color="#bebebe", simplify=False), hoverinfo="skip"))
        fig.add_trace(go.Scatter(x=[BEST_X[r][c]], y=[BEST_Y[r][c]], xaxis="x" + suffix, yaxis="y" + suffix, mode="markers",
                                 cliponaxis=False, hoverinfo="skip",
                                 marker=dict(symbol="circle-open", size=52, color="#ff0000", line=dict(width=7, color="#ff0000"))))
        xv, xl, xm, yv, yl, ym = ticks_for(r, c)
        left, right = COL_LEFT[r][c], COL_RIGHT[r][c]
        common = dict(showline=True, linecolor="#7f7f7f", linewidth=2, mirror=True, showgrid=False, zeroline=False,
                      ticks="outside", ticklen=6, tickwidth=1.5, tickcolor="#555555", tickfont=tick_font, tickmode="array", tickangle=0)
        layout["xaxis" + suffix] = dict(common, domain=[left / W, right / W], anchor="y" + suffix, range=xr,
                                        tickvals=xv, ticktext=xl, ticklabelstandoff=-6,
                                        tickfont=tick_font_dense if (r == 1 and c == 0) else tick_font,
                                        minor=dict(ticks="outside", ticklen=3, tickwidth=1, tickcolor="#555555", dtick=xm, tick0=0))
        layout["yaxis" + suffix] = dict(common, domain=[1 - bottom / H, 1 - top / H], anchor="x" + suffix, range=yr,
                                        tickvals=yv, ticktext=yl, ticklabelstandoff=4,
                                        minor=dict(ticks="outside", ticklen=3, tickwidth=1, tickcolor="#555555", dtick=ym, tick0=0))
        note(f"({row}-{c + 1})", LABEL_X[r][c], LABEL_Y[r][c], 50)
        note(X_TITLES[c], XTITLE_X[r][c], XTITLE_Y[r][c], 41)
        ymid = (top + bottom) / 2 + (YTITLE_SHIFT[r] if c == 3 else 0)
        note(Y_TITLES[c], YTITLE_X[r][c], ymid, 51, -90)
    note("RMSE", RMSE_X[r], RMSE_Y[r], 34)

# one colour bar per row, drawn as a stepped column on its own RMSE axis
for r, row in enumerate(ROWS):
    n += 1
    suffix = str(n)
    cscale, cstart, cend, csize, zlo, zhi = colorscale(COLOR_TABLE[r], OVER_COLORS[r], RMSE_MIN[r], RMSE_MAX[r])
    top, bottom = PLOT_TOP[r], PLOT_BOTTOM[r]
    edges = [zlo] + [RMSE_MIN[r] + i * csize for i in range(N_BANDS + 1)] + [zhi]
    mids = [(edges[i] + edges[i + 1]) / 2 for i in range(len(edges) - 1)]
    fig.add_trace(go.Heatmap(x=[0, 1], y=edges, z=[[m] for m in mids], xaxis="x" + suffix, yaxis="y" + suffix,
                             colorscale=cscale, zmin=zlo, zmax=zhi, showscale=False, hoverinfo="skip", name="RMSE"))
    layout["xaxis" + suffix] = dict(domain=[CBAR_LEFT[r] / W, (CBAR_LEFT[r] + CBAR_WIDTH) / W], anchor="y" + suffix, range=[0, 1],
                                    showticklabels=False, ticks="", showgrid=False, zeroline=False,
                                    showline=True, linecolor="#808080", linewidth=2, mirror=True)
    layout["yaxis" + suffix] = dict(domain=[1 - bottom / H, 1 - top / H], anchor="x" + suffix, side="right", range=[zlo, zhi],
                                    tickmode="array", tickvals=[RMSE_MIN[r], RMSE_MID[r], RMSE_HIGH[r]],
                                    ticktext=[f"{RMSE_MIN[r]:.1f}", f"{RMSE_MID[r]:.1f}", f"{RMSE_HIGH[r]:.1f}"],
                                    ticks="outside", ticklen=17, tickwidth=1.5, tickcolor="#999999", tickfont=tick_font,
                                    ticklabelstandoff=3, showgrid=False, zeroline=False,
                                    showline=True, linecolor="#808080", linewidth=2, mirror=True)

layout["annotations"] = notes
fig.update_layout(**layout)
fig.write_html("out.html", config={"displayModeBar": False},
               post_script="document.body.style.margin='0';document.body.style.background='white';")
